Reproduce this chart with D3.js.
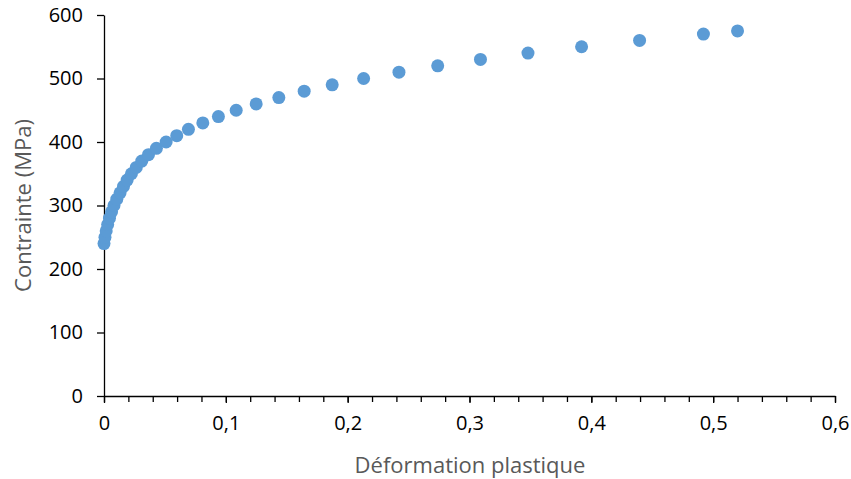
<!DOCTYPE html>
<html>
<head>
<meta charset="utf-8">
<script src="https://cdn.jsdelivr.net/npm/d3@7"></script>
<style>
  html, body { margin: 0; padding: 0; background: #fff; }
  svg { display: block; }
  text { font-family: "Open Sans", "Noto Sans", sans-serif; }
</style>
</head>
<body>
<svg id="chart" width="851" height="479"></svg>
<script>
// Data
const strain = [0, 0.0008, 0.0018, 0.003, 0.0045, 0.0062, 0.0082, 0.0105, 0.0132, 0.016,
  0.019, 0.0225, 0.0265, 0.031, 0.0365, 0.043, 0.051, 0.0597, 0.0693, 0.0811,
  0.0939, 0.1085, 0.1249, 0.1435, 0.1643, 0.1873, 0.2131, 0.2421, 0.2739, 0.309,
  0.348, 0.392, 0.4396, 0.492, 0.520];
const stress = [240, 250, 260, 270, 280, 290, 300, 310, 320, 330,
  340, 350, 360, 370, 380, 390, 400, 410, 420, 430,
  440, 450, 460, 470, 480, 490, 500, 510, 520, 530,
  540, 550, 560, 570, 575];
const xTicks = [0, 0.1, 0.2, 0.3, 0.4, 0.5, 0.6];
const xMinorTicks = d3.range(0, 31).map(i => i * 0.02);
const yTicks = [0, 100, 200, 300, 400, 500, 600];
const xTitle = "Déformation plastique";
const yTitle = "Contrainte (MPa)";

const svg = d3.select("#chart");
const mLeft = 104, mRight = 835, mTop = 15, mBottom = 396;

const x = d3.scaleLinear().domain([0, 0.6]).range([mLeft, mRight]);
const y = d3.scaleLinear().domain([0, 600]).range([mBottom, mTop]);
const fmt = d => d3.format(".1~f")(d).replace(".", ",");

// X axis (minor ticks)
svg.append("g")
  .attr("transform", `translate(0,${mBottom})`)
  .call(d3.axisBottom(x).tickValues(xMinorTicks).tickSize(6).tickFormat(""))
  .call(g => g.select(".domain").remove())
  .call(g => g.selectAll("line").attr("stroke", "#000").attr("stroke-width", 1.3));

// X axis (major ticks + labels)
const gx = svg.append("g")
  .attr("transform", `translate(0,${mBottom})`)
  .call(d3.axisBottom(x).tickValues(xTicks).tickSize(7).tickSizeOuter(0).tickPadding(13).tickFormat(fmt));
gx.select(".domain").attr("stroke", "#000").attr("stroke-width", 1.3);
gx.selectAll("line").attr("stroke", "#000").attr("stroke-width", 1.3);
gx.selectAll("text").attr("font-size", 20).attr("fill", "#000");

// Y axis
const gy = svg.append("g")
  .attr("transform", `translate(${mLeft},0)`)
  .call(d3.axisLeft(y).tickValues(yTicks).tickSize(7).tickSizeOuter(0).tickPadding(14));
gy.select(".domain").attr("stroke", "#000").attr("stroke-width", 1.3);
gy.selectAll("line").attr("stroke", "#000").attr("stroke-width", 1.3);
gy.selectAll("text").attr("font-size", 20).attr("fill", "#000");

// Axis titles
svg.append("text")
  .attr("x", 470)
  .attr("y", 473)
  .attr("text-anchor", "middle")
  .attr("font-size", 22)
  .attr("fill", "#595959")
  .text(xTitle);

svg.append("text")
  .attr("transform", `translate(31,${(mTop + mBottom) / 2}) rotate(-90)`)
  .attr("text-anchor", "middle")
  .attr("font-size", 22)
  .attr("fill", "#595959")
  .text(yTitle);

// Points
svg.append("g")
  .selectAll("circle")
  .data(strain.map((s, i) => ({ s, v: stress[i] })))
  .join("circle")
  .attr("cx", d => x(d.s))
  .attr("cy", d => y(d.v))
  .attr("r", 6.5)
  .attr("fill", "#5B9BD5");
</script>
</body>
</html>
